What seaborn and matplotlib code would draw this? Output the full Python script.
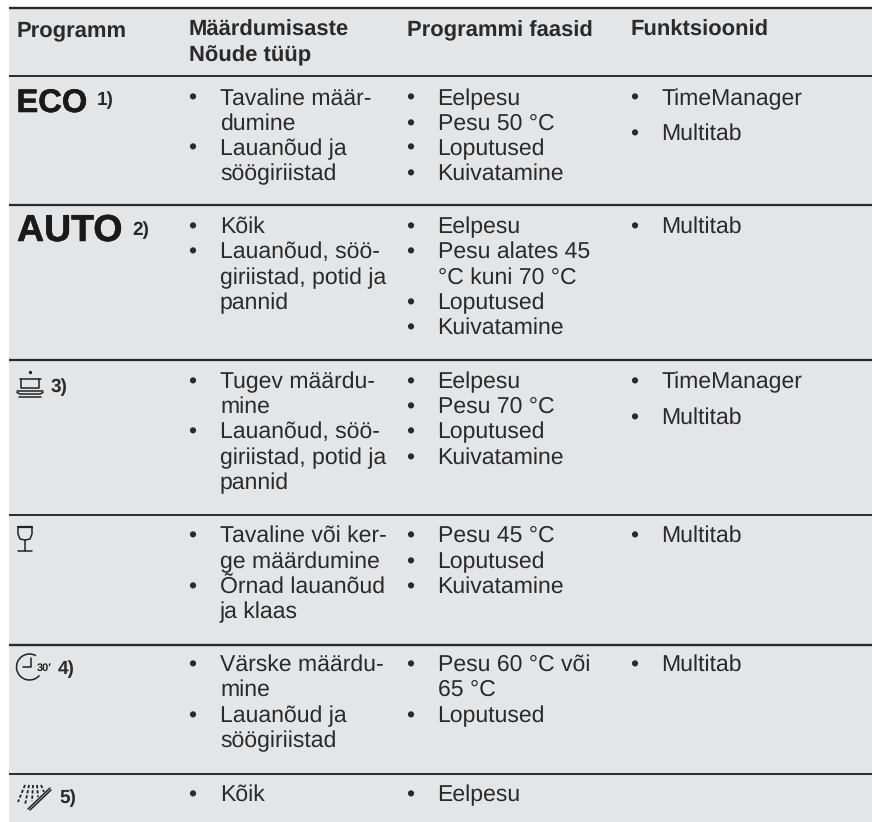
import matplotlib
matplotlib.use("Agg")
import matplotlib.pyplot as plt
import matplotlib.patheffects as pe
from matplotlib.patches import Rectangle, Arc
import seaborn as sns

sns.set_theme(style="white")
plt.rcParams["font.family"] = ["Liberation Sans", "DejaVu Sans"]
plt.rcParams["text.hinting"] = "no_hinting"
plt.rcParams["text.hinting_factor"] = 1

W, H = 872, 822
TEXT = "#2a2a2a"
BG = "#e4e5e7"
LINE = "#2a2a2a"

headers = [("Programm", 16.5, 36), ("Määrdumisaste", 189, 36), ("Nõude tüüp", 189, 61),
           ("Programmi faasid", 407, 36), ("Funktsioonid", 631, 36)]
rules = [(8, 1.7), (76, 1.4), (205.5, 1.6), (360.5, 1.6), (515, 1.4), (645, 1.7), (774, 1.4)]

col2 = [
    ("•", "Tavaline määr-", 105), ("", "dumine", 130), ("•", "Lauanõud ja", 155), ("", "söögiriistad", 180),
    ("•", "Kõik", 233), ("•", "Lauanõud, söö-", 258), ("", "giriistad, potid ja", 284), ("", "pannid", 309),
    ("•", "Tugev määrdu-", 388), ("", "mine", 413), ("•", "Lauanõud, söö-", 438), ("", "giriistad, potid ja", 464), ("", "pannid", 489),
    ("•", "Tavaline või ker-", 542), ("", "ge määrdumine", 568), ("•", "Õrnad lauanõud", 593), ("", "ja klaas", 618),
    ("•", "Värske määrdu-", 671), ("", "mine", 696), ("•", "Lauanõud ja", 722), ("", "söögiriistad", 747),
    ("•", "Kõik", 801),
]
col3 = [
    ("•", "Eelpesu", 105), ("•", "Pesu 50 °C", 130), ("•", "Loputused", 155), ("•", "Kuivatamine", 180),
    ("•", "Eelpesu", 233), ("•", "Pesu alates 45", 258), ("", "°C kuni 70 °C", 284), ("•", "Loputused", 309), ("•", "Kuivatamine", 334),
    ("•", "Eelpesu", 388), ("•", "Pesu 70 °C", 413), ("•", "Loputused", 438), ("•", "Kuivatamine", 464),
    ("•", "Pesu 45 °C", 542), ("•", "Loputused", 568), ("•", "Kuivatamine", 593),
    ("•", "Pesu 60 °C või", 671), ("", "65 °C", 696), ("•", "Loputused", 722),
    ("•", "Eelpesu", 801),
]
col4 = [
    ("•", "TimeManager", 105), ("•", "Multitab", 140),
    ("•", "Multitab", 233),
    ("•", "TimeManager", 388), ("•", "Multitab", 424),
    ("•", "Multitab", 542),
    ("•", "Multitab", 671),
]
columns = [(col2, 192, 220), (col3, 410.5, 437.5), (col4, 634, 661.5)]
notes = [("1)", 97, 105), ("2)", 132, 235), ("3)", 51, 392), ("4)", 58, 674), ("5)", 59, 803)]

fig = plt.figure(figsize=(W / 100, H / 100), dpi=100)
ax = fig.add_axes([0, 0, 1, 1])
ax.set_xlim(0, W)
ax.set_ylim(H, 0)
ax.axis("off")
ax.add_patch(Rectangle((9, 8), W - 9, H - 8, fc=BG, ec="none"))

for y, lw in rules:
    ax.plot([9, W], [y, y], color=LINE, lw=lw, solid_capstyle="butt")

FS = 16.3
for label, x, y in headers:
    ax.text(x, y, label, ha="left", va="baseline", fontsize=16.1, fontweight="bold", color=TEXT)
for rows, xb, xt in columns:
    for bullet, line, y in rows:
        if bullet:
            ax.text(xb, y, bullet, ha="center", va="baseline", fontsize=FS, color=TEXT)
        ax.text(xt, y, line, ha="left", va="baseline", fontsize=FS, color=TEXT)
for label, x, y in notes:
    ax.text(x, y, label, ha="left", va="baseline", fontsize=14, fontweight="bold", color=TEXT)

stroke = [pe.withStroke(linewidth=0.4, foreground="#1a1a1a")]
ax.text(16.5, 112, "ECO", ha="left", va="baseline", fontsize=23.5, fontweight="bold", color="#1a1a1a", path_effects=stroke)
ax.text(17, 241, "AUTO", ha="left", va="baseline", fontsize=27, fontweight="bold", color="#1a1a1a", path_effects=stroke)

ilw = 1.1
ik = dict(color="#222222", lw=ilw, solid_capstyle="round")
# pot on plates
ax.plot([21, 21, 39, 39], [379, 388, 388, 379], **ik)
ax.plot([20, 41], [379, 379], **ik)
ax.plot([30], [372], marker="o", ms=1.4, color="#222222")
ax.plot([17, 43], [391, 391], **ik)
ax.plot([17, 20, 40, 43], [392.5, 394, 394, 392.5], **ik)
ax.plot([19, 41], [396.5, 396.5], **ik)
# wine glass
ax.plot([18, 18, 20, 25, 30, 32, 32], [527, 534, 539, 540, 539, 534, 527], **ik)
ax.plot([18, 32], [527, 527], color="#222222", lw=1.6)
ax.plot([25, 25], [540, 551], **ik)
ax.plot([18, 32], [551, 551], **ik)
# 30 minute clock
ax.add_patch(Arc((29.5, 667), 26, 26, angle=0, theta1=40, theta2=300, color="#222222", lw=ilw))
ax.plot([23, 31, 31], [667, 667, 658], **ik)
ax.text(44, 668.5, "30′", ha="center", va="center", fontsize=8, fontweight="bold", color="#222222")
# spray
for x0, y0, x1, y1 in [(25, 785, 18, 802), (29, 785, 25, 805), (33, 785, 32, 801), (37, 785, 38, 797), (41, 785, 44, 792)]:
    ax.plot([x0, x1], [y0, y1], color="#222222", lw=1.3, ls=(0, (1.8, 1.1)))
ax.plot([28, 50], [809, 788], **ik)
ax.plot([30, 51], [810, 790], **ik)

fig.savefig("out.png", dpi=100, facecolor="white")
